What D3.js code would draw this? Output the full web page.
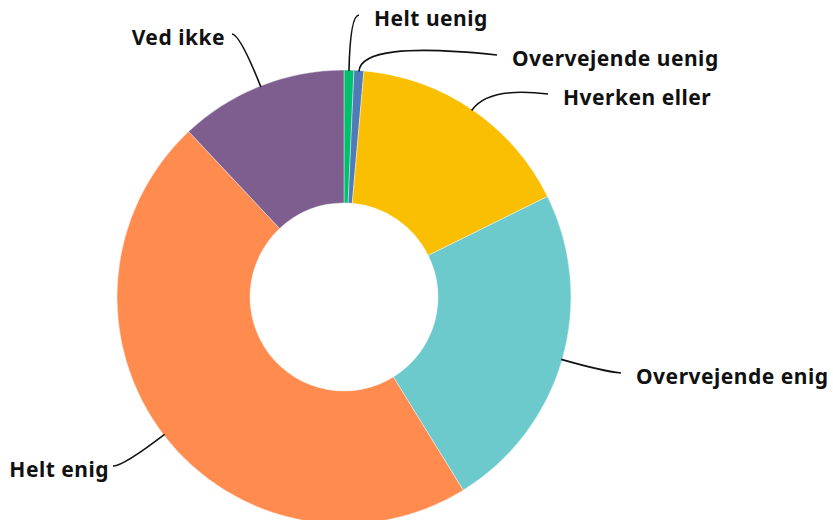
<!DOCTYPE html>
<html>
<head>
<meta charset="utf-8">
<script src="https://cdn.jsdelivr.net/npm/d3@7"></script>
<style>
    body { margin: 0; background: #fff; }
    svg { display: block; }
</style>
</head>
<body>
<div id="chart"></div>
<script>
const categories = ['Helt uenig', 'Overvejende uenig', 'Hverken eller', 'Overvejende enig', 'Helt enig', 'Ved ikke'];
const values = [0.7, 0.7, 16.3, 23.5, 46.8, 12.0];
const colors = ['#00c06e', '#4f7bb8', '#f9bf00', '#6cc9cc', '#ff8b4f', '#7d5e8e'];

// label layout: leader length out from the slice, end point of leader, gap to text, side
const labelLayout = [
    { len: 55, end: [359, 15], gap: 15, side: 1 },
    { len: 30, end: [497, 55], gap: 15, side: 1 },
    { len: 28, end: [548, 94], gap: 15, side: 1 },
    { len: 42, end: [621, 373], gap: 15, side: 1 },
    { len: 52, end: [113, 466], gap: 4, side: -1 },
    { len: 55, end: [232, 34], gap: 7, side: -1 },
];

const width = 833;
const height = 520;
const cx = 344;
const cy = 297;
const outerR = 227;
const innerR = 94;

const svg = d3.select('#chart').append('svg')
    .attr('width', width)
    .attr('height', height);

const g = svg.append('g').attr('transform', `translate(${cx},${cy})`);

const pie = d3.pie().sort(null).value((d) => d);
const arcs = pie(values);
const arc = d3.arc().innerRadius(innerR).outerRadius(outerR);

g.selectAll('.slice')
    .data(arcs)
    .enter()
    .append('path')
    .attr('class', 'slice')
    .attr('d', arc)
    .attr('fill', (d, i) => colors[i])
    .attr('stroke', '#fff')
    .attr('stroke-width', 0.4);

// leader lines
g.selectAll('.leader')
    .data(arcs)
    .enter()
    .append('path')
    .attr('class', 'leader')
    .attr('fill', 'none')
    .attr('stroke', '#111')
    .attr('stroke-width', 1.6)
    .attr('d', (d, i) => {
        const a = (d.startAngle + d.endAngle) / 2;
        const ux = Math.sin(a);
        const uy = -Math.cos(a);
        const sx = ux * (outerR - 1);
        const sy = uy * (outerR - 1);
        const lay = labelLayout[i];
        const kx = ux * (outerR + lay.len);
        const ky = uy * (outerR + lay.len);
        const ex = lay.end[0] - cx;
        const ey = lay.end[1] - cy;
        return `M${sx},${sy}Q${kx},${ky} ${ex},${ey}`;
    });

g.selectAll('.label')
    .data(arcs)
    .enter()
    .append('text')
    .attr('class', 'label')
    .attr('x', (d, i) => labelLayout[i].end[0] - cx + labelLayout[i].side * labelLayout[i].gap)
    .attr('y', (d, i) => labelLayout[i].end[1] - cy + 11)
    .attr('text-anchor', (d, i) => (labelLayout[i].side > 0 ? 'start' : 'end'))
    .attr('font-family', '"Noto Sans", sans-serif')
    .attr('font-weight', 700)
    .attr('font-size', '21px')
    .attr('letter-spacing', '0.5px')
    .attr('fill', '#111')
    .text((d, i) => categories[i]);
</script>
</body>
</html>
